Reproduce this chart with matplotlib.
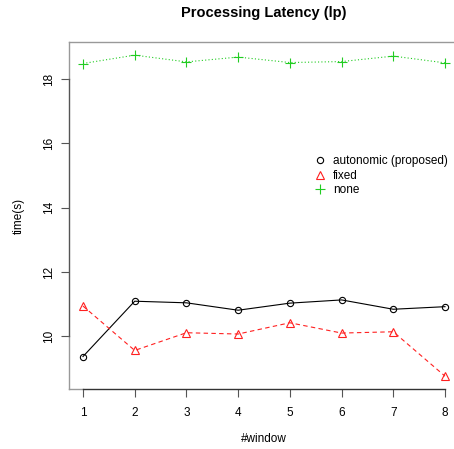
import matplotlib
matplotlib.use("Agg")
import matplotlib.pyplot as plt
from matplotlib.lines import Line2D

plt.rcParams['font.family'] = ['Liberation Sans', 'DejaVu Sans']

windows = [1, 2, 3, 4, 5, 6, 7, 8]
autonomic = [9.37, 11.09, 11.04, 10.81, 11.03, 11.13, 10.84, 10.92]
fixed = [10.94, 9.56, 10.11, 10.07, 10.42, 10.10, 10.14, 8.76]
none = [18.48, 18.74, 18.53, 18.68, 18.51, 18.54, 18.71, 18.50]
series_names = ["autonomic (proposed)", "fixed", "none"]
yticks = [10, 12, 14, 16, 18]

RED = '#FF2020'
GREEN = '#22CC22'

W, H = 454, 449
fig = plt.figure(figsize=(W / 100, H / 100), dpi=100)
ax = fig.add_axes([68.5 / W, 60 / H, 391 / W, 346.7 / H])

ax.plot(windows, autonomic, color='black', lw=0.8, ls='-', marker='o', ms=4.5,
        mfc='none', mec='black', mew=0.8)
ax.plot(windows, fixed, color=RED, lw=0.8, ls=(0, (4, 3)), marker='^', ms=5.5,
        mfc='none', mec=RED, mew=0.8)
ax.plot(windows, none, color=GREEN, lw=0.8, ls=(0, (1, 2)), marker='+', ms=7,
        mfc='none', mec=GREEN, mew=0.8)

allv = autonomic + fixed + none
lo, hi = min(allv), max(allv)
r = hi - lo
ax.set_xlim(1 - 0.04 * 7, 8 + 0.04 * 7)
ax.set_ylim(lo - 0.04 * r, hi + 0.04 * r)

for s in ax.spines.values():
    s.set_color('#999999')
    s.set_linewidth(1.0)
ax.spines['bottom'].set_bounds(1, 8)
ax.spines['left'].set_bounds(10, 18)
ax.spines['bottom'].set_color('#333333')
ax.spines['left'].set_color('#555555')
ax.plot([0.72, 1], [lo - 0.04 * r] * 2, color='#999999', lw=1.0, clip_on=False)
ax.plot([0.72, 0.72], [lo - 0.04 * r, 10], color='#999999', lw=1.0, clip_on=False)
ax.plot([0.72, 0.72], [18, hi + 0.04 * r], color='#999999', lw=1.0, clip_on=False)

ax.set_xticks(windows)
ax.set_xticklabels([str(w) for w in windows])
ax.set_yticks(yticks)
ax.set_yticklabels([str(t) for t in yticks], rotation=90, va='center')
ax.tick_params(axis='both', length=6, width=0.8, color='#555555', labelsize=8.5,
               labelcolor='black')
ax.tick_params(axis='x', pad=7)
ax.tick_params(axis='y', pad=4)

ax.set_xlabel('#window', fontsize=8.5, labelpad=10)
ax.set_ylabel('time(s)', fontsize=8.5, labelpad=13)
ax.set_title('Processing Latency (lp)', fontsize=10.5, fontweight='bold', pad=18)

handles = [
    Line2D([], [], ls='none', marker='o', ms=4.5, mfc='none', mec='black', mew=0.8),
    Line2D([], [], ls='none', marker='^', ms=5.5, mfc='none', mec=RED, mew=0.8),
    Line2D([], [], ls='none', marker='+', ms=7, mfc='none', mec=GREEN, mew=0.8),
]
ax.legend(handles, series_names, loc='upper left',
          bbox_to_anchor=((312 - 68.5) / 391, (389 - 153) / 346.7),
          frameon=False, fontsize=8.5, handlelength=1.0, handletextpad=0.6,
          labelspacing=0.2, borderpad=0.2, borderaxespad=0)

fig.savefig('out.png', dpi=100)
